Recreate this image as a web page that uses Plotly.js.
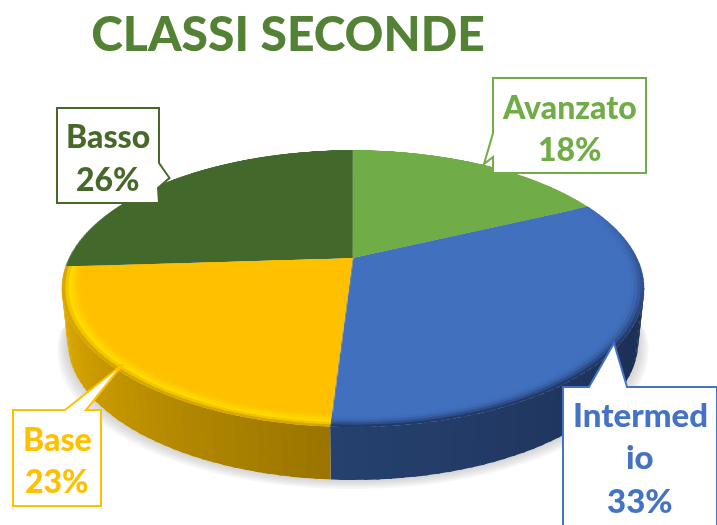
<!DOCTYPE html>
<html><head><meta charset="utf-8">
<script src="https://cdn.plot.ly/plotly-3.0.1.min.js"></script>
<style>html,body{margin:0;padding:0;background:#fff;overflow:hidden}#chart{width:717px;height:525px}</style>
</head><body><div id="chart"></div>
<script>
const chartTitle = "CLASSI SECONDE";
const categories = ["Avanzato", "Intermedio", "Base", "Basso"];
const values = [18, 33, 23, 26];
const sliceColors = ["#70AD47", "#4170BF", "#FFC000", "#43682B"];
const labelColors = ["#70AD47", "#4472C4", "#FFC000", "#46692A"];
const labelLines = [["Avanzato"], ["Intermed", "io"], ["Base"], ["Basso"]];

const W = 717, H = 525;
const fontName = "Lato, Carlito, sans-serif";
// projective view of the disc
const CX = 353, CY = 258, RX = 284, RY = 131.8, P = 0.2203;
const DEPTH = 53, BOTTOM_SHRINK = 0.98;
const R0 = H / 2, SX = W / 2, SY = H / 2;

function proj(r, deg) {
  const a = deg * Math.PI / 180, u = r * Math.sin(a), v = -r * Math.cos(a), w = 1 - P * v;
  return [CX + RX * u / w, CY + RY * v / w];
}
function low(p, extra) {
  const e = extra || 0;
  return [CX + (p[0] - CX) * (BOTTOM_SHRINK + e / 285), p[1] + DEPTH + e * 0.9];
}
const px = p => (p[0] / W).toFixed(5) + "," + (1 - p[1] / H).toFixed(5);
const poly = pts => "M" + pts.map(px).join("L") + "Z";
const hex = c => [1, 3, 5].map(i => parseInt(c.substr(i, 2), 16));
function mix(a, b, t) {
  const A = hex(a), B = hex(b);
  const h = A.map((x, i) => Math.round(x + (B[i] - x) * t).toString(16).padStart(2, "0")).join("");
  return "#" + h;
}
const quad = (pts, col) => ({type: "path", xref: "paper", yref: "paper", path: poly(pts),
  fillcolor: col, line: {width: 0}});

const total = values.reduce((a, b) => a + b, 0);
let acc = 0;
const bounds = values.map(v => { const s = acc; acc += v; return [s * 360 / total, acc * 360 / total]; });

const SIDE_A = 102.4, SIDE_B = 257.6;
// per-slice style: side colour at the low / high angle, rim colour stops inward to outward
const shade = {
  1: {sideLo: "#1A2B50", sideHi: "#26416F", rim: ["#4170BF", "#4170BF", "#4070BD", "#3E6BB6", "#3860A6", "#2E4F8C", "#223B6B"]},
  2: {sideLo: "#9A7400", sideHi: "#E2AE00", rim: ["#FFC000", "#FFC200", "#FFC800", "#FFD200", "#FFDA00", "#F4C400", "#D8A600"]}
};
const shapes = [];
const sideRange = i => i === 1 ? [100, 183.6] : [183.6, 257.6];
const sideCol = (i, d) => {
  const r = sideRange(i);
  return mix(shade[i].sideLo, shade[i].sideHi, Math.min(1, Math.max(0, (d - r[0]) / (r[1] - r[0]))));
};

// soft shadow under the disc
[10, 8, 6, 4, 2].forEach(e => {
  const outer = [], inner = [];
  for (let d = SIDE_A - 8; d <= SIDE_B + 8; d += 3) {
    const p = proj(1, d);
    outer.push(low(p, e)); inner.unshift(low(p, 0));
  }
  shapes.push({type: "path", xref: "paper", yref: "paper", path: poly(outer.concat(inner)),
    fillcolor: "rgba(90,90,100,0.055)", line: {width: 0}});
});

// side wall and bevel rim for the front slices
const OVERLAP = 0.6;
[1, 2].forEach(i => {
  const s = shade[i];
  const from = bounds[i][0], to = bounds[i][1];
  const steps = Math.ceil((to - from) / 2);
  for (let k = 0; k < steps; k++) {
    const d0 = from + (to - from) * k / steps, d1 = Math.min(to, from + (to - from) * (k + 1) / steps + OVERLAP), dm = d0 + (to - from) / steps / 2;
    if (d1 > SIDE_A && d0 < SIDE_B) {
      const a = Math.max(d0, SIDE_A), b = Math.min(d1, SIDE_B);
      const pa = proj(1, a), pb = proj(1, b);
      shapes.push(quad([pa, pb, low(pb), low(pa)], sideCol(i, dm)));
    }
  }
  const RIM_IN = 0.935, rows = s.rim.length - 1;
  for (let k = 0; k < steps; k++) {
    const d0 = from + (to - from) * k / steps, d1 = Math.min(to, from + (to - from) * (k + 1) / steps + OVERLAP), dm = d0 + (to - from) / steps / 2;
    const fade = Math.min(1, Math.max(0, (dm - 64.8) / 60));
    for (let j = 0; j < rows; j++) {
      const r0 = RIM_IN + (1 - RIM_IN) * j / rows, r1 = Math.min(1, RIM_IN + (1 - RIM_IN) * (j + 1.3) / rows);
      const col = mix(s.rim[0], s.rim[j + 1], fade);
      shapes.push(quad([proj(r0, d0), proj(r0, d1), proj(r1, d1), proj(r1, d0)], col));
    }
  }
});

// callouts
const boxes = [
  {x0: 493, x1: 646, y0: 78, y1: 173, tail: [[493, 133], [484, 164], [493, 157]], side: "left"},
  {x0: 563, x1: 717, y0: 387, y1: 530, tail: [[589, 387], [614, 343], [627, 387]], side: "top"},
  {x0: 13, x1: 101, y0: 410, y1: 506, tail: [[65, 410], [123, 364], [86, 410]], side: "top"},
  {x0: 57, x1: 159, y0: 108, y1: 203, tail: [[159, 163], [169.5, 178], [158, 188]], side: "right"}
];
boxes.forEach((b, i) => {
  let pts;
  const c = [[b.x0, b.y0], [b.x1, b.y0], [b.x1, b.y1], [b.x0, b.y1]];
  if (b.side === "top") pts = [c[0], ...b.tail, c[1], c[2], c[3]];
  if (b.side === "left") pts = [c[0], c[1], c[2], c[3], ...b.tail.slice().reverse()];
  if (b.side === "right") pts = [c[0], c[1], ...b.tail, c[2], c[3]];
  shapes.push({type: "path", xref: "paper", yref: "paper", path: poly(pts),
    fillcolor: "#FFFFFF", line: {color: labelColors[i], width: 2}});
});

// label text
const lineCentres = [[106, 148], [414, 456, 500], [438, 480], [136, 178]];
const annotations = [];
categories.forEach((c, i) => {
  const lines = labelLines[i].concat([values[i] + "%"]);
  const bx = (boxes[i].x0 + Math.min(boxes[i].x1, 717)) / 2;
  lines.forEach((t, j) => annotations.push({
    xref: "paper", yref: "paper", x: bx / W, y: 1 - lineCentres[i][j] / H,
    xanchor: "center", yanchor: "middle", showarrow: false, text: t,
    font: {family: fontName, size: i === 1 ? 33 : 32, color: labelColors[i], weight: 900}
  }));
});

Plotly.newPlot("chart", [{
  type: "pie", labels: categories, values: values, sort: false, direction: "clockwise", rotation: 0,
  marker: {colors: sliceColors, line: {width: 0}}, textinfo: "none", hoverinfo: "none",
  domain: {x: [0, 1], y: [0, 1]}
}], {
  width: W, height: H, margin: {l: 0, r: 0, t: 0, b: 0, pad: 0}, showlegend: false,
  paper_bgcolor: "rgba(0,0,0,0)", plot_bgcolor: "rgba(0,0,0,0)",
  title: {text: chartTitle, x: 288 / W, y: 1 - 34 / H, xanchor: "center", yanchor: "middle", xref: "paper", yref: "paper",
    font: {family: fontName, size: 48, color: "#548235", weight: 900}},
  shapes: shapes, annotations: annotations
}, {displayModeBar: false, staticPlot: true}).then(gd => {
  const svg = gd.querySelector(".main-svg");
  const k = P * SY / R0, f = -P / R0;
  const tw = 1 + k;
  const m = [RX / R0, 0, 0, 0,
    CX * f, CY * f + RY / R0, 0, f,
    0, 0, 1, 0,
    CX * tw - RX * SX / R0, CY * tw - RY * SY / R0, 0, tw];
  svg.style.transformOrigin = "0 0";
  svg.style.transform = "matrix3d(" + m.join(",") + ")";
});
</script></body></html>
